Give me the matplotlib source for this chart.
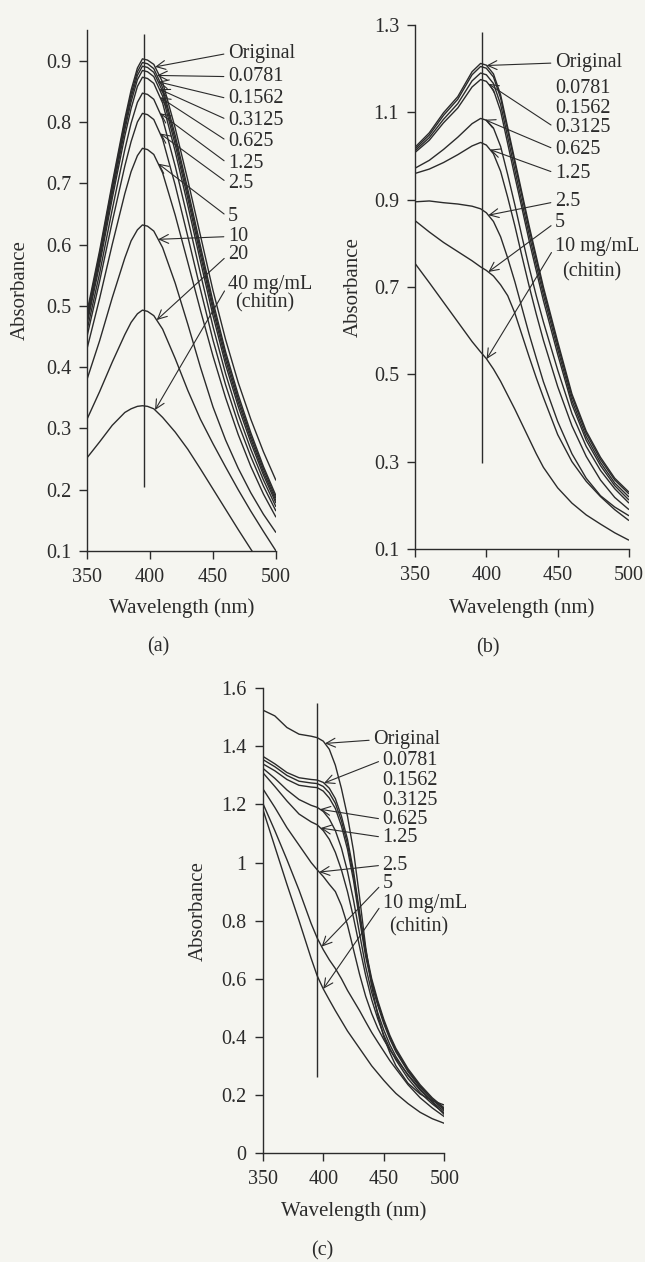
import numpy as np
import matplotlib
matplotlib.use('Agg')
import matplotlib.pyplot as plt

plt.rcParams['font.family'] = ['Liberation Serif', 'DejaVu Serif']

INK = '#2b2b2b'
BG = '#f5f5f0'

# ---------------- panel (a) ----------------
wl_a = [350, 360, 370, 380, 385, 390, 394, 398, 403, 410, 420, 430, 440, 450, 460, 470, 480, 490, 500]
a_original = [0.490, 0.590, 0.700, 0.805, 0.852, 0.888, 0.903, 0.901, 0.894, 0.865, 0.790, 0.705, 0.615, 0.525, 0.445, 0.375, 0.315, 0.262, 0.215]
a_0781 = [0.485, 0.585, 0.695, 0.800, 0.846, 0.882, 0.897, 0.895, 0.887, 0.856, 0.778, 0.690, 0.598, 0.507, 0.425, 0.355, 0.293, 0.238, 0.190]
a_1562 = [0.480, 0.580, 0.690, 0.794, 0.840, 0.876, 0.891, 0.889, 0.881, 0.850, 0.771, 0.683, 0.591, 0.500, 0.419, 0.349, 0.288, 0.234, 0.186]
a_3125 = [0.475, 0.574, 0.683, 0.787, 0.833, 0.869, 0.884, 0.882, 0.874, 0.842, 0.763, 0.675, 0.583, 0.493, 0.412, 0.343, 0.283, 0.229, 0.182]
a_625 = [0.470, 0.567, 0.675, 0.777, 0.822, 0.858, 0.873, 0.871, 0.863, 0.831, 0.752, 0.664, 0.573, 0.484, 0.404, 0.336, 0.277, 0.224, 0.178]
a_125 = [0.460, 0.553, 0.657, 0.755, 0.798, 0.832, 0.847, 0.845, 0.837, 0.805, 0.728, 0.642, 0.553, 0.466, 0.389, 0.323, 0.266, 0.216, 0.172]
a_25 = [0.450, 0.540, 0.637, 0.728, 0.768, 0.800, 0.814, 0.812, 0.804, 0.772, 0.697, 0.613, 0.527, 0.444, 0.371, 0.308, 0.254, 0.206, 0.165]
a_5 = [0.430, 0.512, 0.600, 0.683, 0.719, 0.745, 0.757, 0.755, 0.747, 0.717, 0.648, 0.571, 0.493, 0.418, 0.350, 0.290, 0.238, 0.193, 0.155]
a_10 = [0.380, 0.443, 0.513, 0.578, 0.606, 0.624, 0.632, 0.630, 0.622, 0.595, 0.537, 0.470, 0.400, 0.335, 0.281, 0.235, 0.195, 0.160, 0.130]
a_20 = [0.315, 0.360, 0.408, 0.453, 0.473, 0.487, 0.493, 0.491, 0.484, 0.462, 0.414, 0.362, 0.315, 0.275, 0.237, 0.200, 0.165, 0.132, 0.100]
a_40 = [0.252, 0.278, 0.305, 0.326, 0.332, 0.336, 0.337, 0.336, 0.332, 0.318, 0.294, 0.266, 0.234, 0.201, 0.168, 0.135, 0.103, 0.072, 0.045]
a_series = [a_original, a_0781, a_1562, a_3125, a_625, a_125, a_25, a_5, a_10, a_20, a_40]
a_labels = ['Original', '0.0781', '0.1562', '0.3125', '0.625', '1.25', '2.5', '5', '10', '20', '40 mg/mL']
a_label_y = [0.912, 0.874, 0.838, 0.803, 0.768, 0.732, 0.700, 0.645, 0.613, 0.583, 0.534]
a_tip_x = [404, 405.5, 406.5, 407.5, 408, 408, 408, 406.5, 406.5, 405.3, 404]
a_line_nm = 395
a_line_span = (0.204, 0.943)
a_yticks = [0.1, 0.2, 0.3, 0.4, 0.5, 0.6, 0.7, 0.8, 0.9]

# ---------------- panel (b) ----------------
wl_b = [350, 360, 370, 380, 390, 396, 400, 405, 410, 415, 420, 425, 430, 435, 440, 450, 460, 470, 480, 490, 500]
b_original = [1.020, 1.053, 1.099, 1.136, 1.193, 1.212, 1.208, 1.188, 1.140, 1.065, 0.990, 0.915, 0.840, 0.770, 0.700, 0.575, 0.455, 0.370, 0.310, 0.262, 0.230]
b_0781 = [1.016, 1.048, 1.093, 1.130, 1.186, 1.205, 1.201, 1.181, 1.133, 1.058, 0.983, 0.908, 0.833, 0.763, 0.693, 0.568, 0.449, 0.365, 0.305, 0.258, 0.226]
b_1562 = [1.012, 1.042, 1.084, 1.120, 1.172, 1.190, 1.186, 1.166, 1.118, 1.043, 0.968, 0.893, 0.820, 0.750, 0.682, 0.558, 0.440, 0.357, 0.298, 0.251, 0.219]
b_3125 = [1.008, 1.036, 1.076, 1.110, 1.158, 1.175, 1.171, 1.151, 1.103, 1.028, 0.953, 0.880, 0.806, 0.737, 0.669, 0.546, 0.431, 0.349, 0.291, 0.245, 0.212]
b_625 = [0.972, 0.990, 1.015, 1.043, 1.074, 1.086, 1.082, 1.064, 1.022, 0.957, 0.888, 0.815, 0.745, 0.680, 0.620, 0.510, 0.410, 0.335, 0.280, 0.238, 0.205]
b_125 = [0.960, 0.970, 0.985, 1.003, 1.023, 1.031, 1.025, 1.005, 0.965, 0.905, 0.840, 0.770, 0.702, 0.638, 0.578, 0.472, 0.382, 0.312, 0.258, 0.218, 0.190]
b_25 = [0.895, 0.897, 0.893, 0.890, 0.885, 0.879, 0.870, 0.850, 0.815, 0.766, 0.712, 0.652, 0.592, 0.537, 0.483, 0.392, 0.318, 0.262, 0.222, 0.196, 0.176]
b_5 = [0.852, 0.826, 0.802, 0.781, 0.760, 0.746, 0.738, 0.725, 0.705, 0.680, 0.640, 0.590, 0.540, 0.492, 0.447, 0.362, 0.300, 0.255, 0.220, 0.190, 0.165]
b_10 = [0.754, 0.710, 0.665, 0.620, 0.575, 0.551, 0.536, 0.512, 0.484, 0.452, 0.420, 0.386, 0.352, 0.318, 0.287, 0.240, 0.205, 0.178, 0.157, 0.137, 0.120]
b_series = [b_original, b_0781, b_1562, b_3125, b_625, b_125, b_25, b_5, b_10]
b_labels = ['Original', '0.0781', '0.1562', '0.3125', '0.625', '1.25', '2.5', '5', '10 mg/mL']
b_label_y = [1.213, 1.154, 1.108, 1.065, 1.015, 0.961, 0.895, 0.847, 0.792]
b_tip_x = [400.2, None, None, 401.4, 399, 402.6, 401.4, 401.4, 400.2]
b_line_nm = 396.7
b_line_span = (0.297, 1.285)
b_yticks = [0.1, 0.3, 0.5, 0.7, 0.9, 1.1, 1.3]

# ---------------- panel (c) ----------------
wl_c = [350, 360, 370, 380, 390, 395, 400, 405, 410, 415, 420, 425, 430, 435, 440, 445, 450, 455, 460, 470, 480, 490, 500]
c_original = [1.525, 1.505, 1.465, 1.442, 1.435, 1.430, 1.418, 1.390, 1.335, 1.255, 1.160, 1.040, 0.880, 0.710, 0.575, 0.475, 0.400, 0.345, 0.300, 0.240, 0.203, 0.180, 0.165]
c_0781 = [1.366, 1.340, 1.310, 1.292, 1.286, 1.284, 1.276, 1.256, 1.220, 1.160, 1.080, 0.970, 0.830, 0.700, 0.600, 0.525, 0.460, 0.405, 0.360, 0.290, 0.235, 0.190, 0.155]
c_1562 = [1.355, 1.330, 1.300, 1.280, 1.274, 1.272, 1.262, 1.240, 1.204, 1.144, 1.064, 0.955, 0.818, 0.690, 0.592, 0.518, 0.453, 0.399, 0.354, 0.285, 0.230, 0.186, 0.151]
c_3125 = [1.340, 1.316, 1.286, 1.266, 1.260, 1.258, 1.246, 1.222, 1.186, 1.126, 1.046, 0.938, 0.803, 0.677, 0.581, 0.508, 0.445, 0.392, 0.348, 0.280, 0.226, 0.183, 0.148]
c_625 = [1.325, 1.290, 1.250, 1.217, 1.197, 1.190, 1.176, 1.150, 1.110, 1.050, 0.970, 0.870, 0.755, 0.642, 0.553, 0.483, 0.423, 0.373, 0.332, 0.267, 0.216, 0.176, 0.143]
c_125 = [1.310, 1.262, 1.212, 1.167, 1.140, 1.130, 1.110, 1.080, 1.035, 0.975, 0.900, 0.810, 0.710, 0.612, 0.528, 0.462, 0.406, 0.360, 0.320, 0.256, 0.207, 0.169, 0.137]
c_25 = [1.255, 1.190, 1.120, 1.060, 1.000, 0.975, 0.952, 0.925, 0.900, 0.852, 0.785, 0.700, 0.615, 0.540, 0.480, 0.430, 0.390, 0.355, 0.325, 0.270, 0.220, 0.175, 0.132]
c_5 = [1.205, 1.110, 1.010, 0.905, 0.790, 0.740, 0.700, 0.665, 0.635, 0.600, 0.560, 0.525, 0.490, 0.452, 0.415, 0.382, 0.350, 0.318, 0.290, 0.235, 0.190, 0.155, 0.125]
c_10 = [1.185, 1.055, 0.925, 0.800, 0.670, 0.610, 0.565, 0.527, 0.490, 0.455, 0.420, 0.390, 0.360, 0.330, 0.300, 0.275, 0.250, 0.227, 0.205, 0.170, 0.140, 0.118, 0.102]
c_series = [c_original, c_0781, c_1562, c_3125, c_625, c_125, c_25, c_5, c_10]
c_labels = ['Original', '0.0781', '0.1562', '0.3125', '0.625', '1.25', '2.5', '5', '10 mg/mL']
c_label_y = [1.422, 1.353, 1.284, 1.215, 1.149, 1.087, 0.991, 0.928, 0.860]
c_tip_x = [401.4, 400.6, None, None, 397.3, 397.8, 396.7, 398.7, 400.0]
c_line_nm = 394.5
c_line_span = (0.262, 1.548)
c_yticks = [0, 0.2, 0.4, 0.6, 0.8, 1.0, 1.2, 1.4, 1.6]
c_ytick_labels = ['0', '0.2', '0.4', '0.6', '0.8', '1', '1.2', '1.4', '1.6']

wl_ticks = [350, 400, 450, 500]


def style_axes(ax, ylim, yticks, yticklabels=None):
    ax.set_facecolor('none')
    for side in ['top', 'right']:
        ax.spines[side].set_visible(False)
    for side in ['left', 'bottom']:
        ax.spines[side].set_color(INK)
        ax.spines[side].set_linewidth(1.0)
    ax.set_xlim(350, 500)
    ax.set_ylim(*ylim)
    ax.set_xticks(wl_ticks)
    ax.set_yticks(yticks)
    if yticklabels is None:
        yticklabels = [f'{t:.1f}' for t in yticks]
    ax.set_yticklabels(yticklabels)
    ax.tick_params(direction='out', length=5.5, width=1.0, colors=INK,
                   labelsize=14.5)
    ax.tick_params(axis='y', pad=6)
    ax.tick_params(axis='x', pad=6.5)
    ax.set_xlabel('Wavelength (nm)', fontsize=15, color=INK)
    ax.set_ylabel('Absorbance', fontsize=15, color=INK)


def place_labels(ax, xlab_y, ylab_x, ylab_y=0.5):
    ax.xaxis.set_label_coords(0.5, xlab_y)
    ax.xaxis.label.set_verticalalignment('center')
    ax.yaxis.set_label_coords(ylab_x, ylab_y)
    ax.yaxis.label.set_verticalalignment('center')


def draw_panel(ax, wl, series, labels, label_x, label_y, tips, line_nm, line_span, chitin_xy):
    for values in series:
        ax.plot(wl, values, color=INK, lw=1.0, solid_capstyle='butt')
    ax.vlines(line_nm, line_span[0], line_span[1], color=INK, lw=1.0)
    for i, lab in enumerate(labels):
        lx = label_x[i] if isinstance(label_x, list) else label_x
        if tips[i] is None:
            ax.text(lx, label_y[i], lab, ha='left', va='center', fontsize=14.5,
                    color=INK, clip_on=False)
            continue
        tip_y = np.interp(tips[i], wl, series[i])
        ax.annotate(lab, xy=(tips[i], tip_y), xytext=(lx, label_y[i]),
                    ha='left', va='center', fontsize=14.5, color=INK,
                    annotation_clip=False,
                    arrowprops=dict(arrowstyle='->,head_length=0.45,head_width=0.22',
                                    color=INK, lw=0.8, shrinkA=1, shrinkB=0,
                                    relpos=(0, 0.5)))
    ax.text(chitin_xy[0], chitin_xy[1], '(chitin)', ha='left', va='center',
            fontsize=14.5, color=INK, clip_on=False)


fig = plt.figure(figsize=(6.45, 12.62), dpi=100, facecolor=BG)

ax_a = fig.add_axes([0.1349, 0.5634, 0.2930, 0.4128])
style_axes(ax_a, (0.1, 0.95), a_yticks)
draw_panel(ax_a, wl_a, a_series, a_labels, 461.9, a_label_y, a_tip_x,
           a_line_nm, a_line_span, (467.5, 0.505))
place_labels(ax_a, -0.109, -0.354)

ax_b = fig.add_axes([0.6434, 0.5650, 0.3318, 0.4152])
style_axes(ax_b, (0.1, 1.3), b_yticks)
draw_panel(ax_b, wl_b, b_series, b_labels, 448.1, b_label_y, b_tip_x,
           b_line_nm, b_line_span, (452.8, 0.735))
place_labels(ax_b, -0.113, -0.29)

ax_c = fig.add_axes([0.4073, 0.0864, 0.2816, 0.3682])
style_axes(ax_c, (0, 1.6), c_yticks, c_ytick_labels)
c_label_x = [441.3] + [449.0] * 8
draw_panel(ax_c, wl_c, c_series, c_labels, c_label_x, c_label_y, c_tip_x,
           c_line_nm, c_line_span, (454.5, 0.779))
place_labels(ax_c, -0.126, -0.356, 0.52)

fig.text(158 / 645, 1 - 647 / 1262, '(a)', ha='center', va='center', fontsize=14.5, color=INK)
fig.text(488 / 645, 1 - 648 / 1262, '(b)', ha='center', va='center', fontsize=14.5, color=INK)
fig.text(322 / 645, 1 - 1251 / 1262, '(c)', ha='center', va='center', fontsize=14.5, color=INK)

fig.savefig('out.png', dpi=100, facecolor=BG)
